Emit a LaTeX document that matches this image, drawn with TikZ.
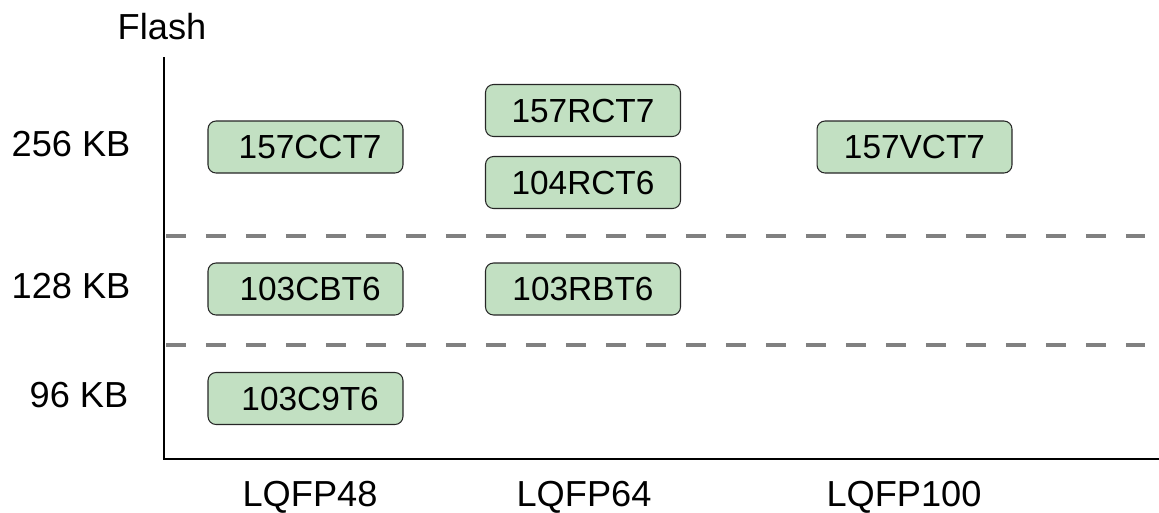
\documentclass[tikz,border=0pt]{standalone}
\usepackage{fontspec}
\setmainfont{Liberation Sans}
\usepackage{xcolor}
\usepackage{tikz}
\usetikzlibrary{positioning,calc}

\definecolor{chipgreen}{HTML}{C2E0C2}
\definecolor{gridgray}{HTML}{808080}

\tikzset{
    chip/.style={draw=black!85, line width=0.6pt, fill=chipgreen, rounded corners=0.16cm,
        minimum width=3.9cm, minimum height=1.04cm, inner sep=0pt, font=\fontsize{19}{21}\selectfont},
    axislabel/.style={font=\fontsize{20.6}{22}\selectfont, inner sep=0pt},
    sizeline/.style={gridgray, line width=2.2pt, dash pattern=on 0.4cm off 0.4cm}
}

\begin{document}
\begin{tikzpicture}[x=0.02cm, y=-0.02cm]
    \useasboundingbox (0,0) rectangle (1159,512);

    % Axes
    \coordinate (origin) at (164,459);
    \coordinate (ytop) at (164,57);
    \coordinate (xend) at (1159,459);
    \draw[line width=1.3pt] (ytop) -- (origin) -- (xend);

    % Flash size separators
    \coordinate (s1l) at (166,236);
    \coordinate (s1r) at (1145,236);
    \coordinate (s2l) at (166,345);
    \coordinate (s2r) at (1145,345);
    \draw[sizeline] (s1l) -- (s1r);
    \draw[sizeline] (s2l) -- (s2r);

    % Labels
    \node[axislabel] (flash) at (162,27) {Flash};
    \node[axislabel] (kb256) at (71,144) {256 KB};
    \node[axislabel] (kb128) at (71,286) {128 KB};
    \node[axislabel] (kb96) at (79,395) {96 KB};
    \node[axislabel] (lqfp48) at (310,497) {LQFP48};
    \node[axislabel] (lqfp64) at (584,497) {LQFP64};
    \node[axislabel] (lqfp100) at (904,497) {LQFP100};

    % Parts
    \node[chip] (cct7) at (305.5,147) {\ 157CCT7};
    \node[chip] (rct7) at (583,110.5) {157RCT7};
    \node[chip] (rct6) at (583,182.5) {104RCT6};
    \node[chip] (vct7) at (914.5,147) {157VCT7};
    \node[chip] (cbt6) at (305.5,289) {\ 103CBT6};
    \node[chip] (rbt6) at (583,289) {103RBT6};
    \node[chip] (c9t6) at (305.5,398.5) {\ 103C9T6};
\end{tikzpicture}
\end{document}
